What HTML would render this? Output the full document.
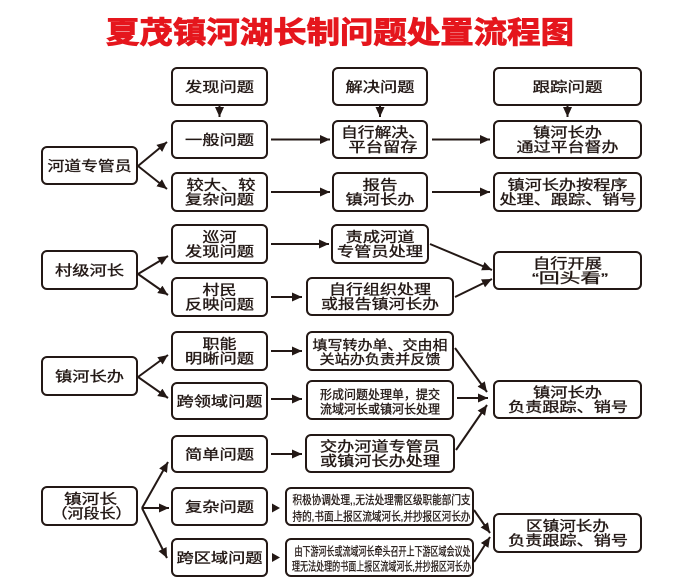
<!DOCTYPE html>
<html>
<head>
<meta charset="utf-8">
<style>
html,body{margin:0;padding:0;background:#fff;}
svg{display:block;}
.t{font-family:"Liberation Sans","Noto Sans CJK SC",sans-serif;fill:#231815;font-size:14px;stroke:#231815;stroke-width:0.35px;}
.s{stroke-width:0.3px;}
.ttl{font-family:"Liberation Sans","Noto Sans CJK SC",sans-serif;fill:#e5161d;font-size:30px;font-weight:bold;stroke:#e5161d;stroke-width:0.9px;}
rect{fill:#fff;stroke:#231815;stroke-width:2;}
line{stroke:#231815;stroke-width:2;}
</style>
</head>
<body>
<svg width="684" height="587" viewBox="0 0 684 587" xmlns="http://www.w3.org/2000/svg">
<defs>
<marker id="a" markerUnits="userSpaceOnUse" markerWidth="12" markerHeight="10" refX="10" refY="5" orient="auto">
<path d="M0,0.5 L10,5 L0,9.5 z" fill="#231815"/>
</marker>
</defs>

<!-- title -->
<text class="ttl" x="340" y="43" text-anchor="middle" textLength="468" lengthAdjust="spacingAndGlyphs">夏茂镇河湖长制问题处置流程图</text>

<!-- boxes -->
<rect x="172" y="68" width="95" height="37" rx="5"/>
<rect x="333" y="68" width="94" height="37" rx="5"/>
<rect x="494" y="68" width="147" height="37" rx="5"/>
<rect x="172" y="121" width="95" height="37" rx="5"/>
<rect x="333" y="121" width="94" height="37" rx="5"/>
<rect x="494" y="121" width="147" height="37" rx="5"/>
<rect x="172" y="173" width="95" height="38" rx="5"/>
<rect x="333" y="173" width="94" height="38" rx="5"/>
<rect x="494" y="173" width="147" height="38" rx="5"/>
<rect x="42" y="147" width="95" height="37" rx="5"/>

<rect x="42" y="251" width="95" height="38" rx="5"/>
<rect x="172" y="225" width="95" height="38" rx="5"/>
<rect x="172" y="278" width="95" height="38" rx="5"/>
<rect x="332" y="225" width="96" height="38" rx="5"/>
<rect x="307" y="278" width="146" height="37" rx="5"/>
<rect x="494" y="252" width="147" height="37" rx="5"/>

<rect x="42" y="357" width="95" height="38" rx="5"/>
<rect x="172" y="332" width="95" height="38" rx="5"/>
<rect x="172" y="383" width="95" height="36" rx="5"/>
<rect x="307" y="332" width="146" height="38" rx="5"/>
<rect x="307" y="381" width="146" height="38" rx="5"/>
<rect x="494" y="381" width="147" height="37" rx="5"/>

<rect x="42" y="487" width="95" height="38" rx="5"/>
<rect x="172" y="436" width="95" height="36" rx="5"/>
<rect x="172" y="488" width="95" height="37" rx="5"/>
<rect x="172" y="539" width="95" height="37" rx="5"/>
<rect x="306" y="435" width="148" height="37" rx="5"/>
<rect x="286" y="488" width="187" height="37" rx="5"/>
<rect x="286" y="539" width="187" height="37" rx="5"/>
<rect x="494" y="514" width="147" height="38" rx="5"/>

<!-- arrows -->
<g marker-end="url(#a)">
<line x1="219.5" y1="105" x2="219.5" y2="117"/>
<line x1="380" y1="105" x2="380" y2="117"/>
<line x1="567.5" y1="105" x2="567.5" y2="117"/>

<line x1="138" y1="166" x2="167" y2="142"/>
<line x1="138" y1="166" x2="167" y2="189"/>
<line x1="271" y1="139.5" x2="330" y2="139.5"/>
<line x1="432" y1="139.5" x2="490" y2="139.5"/>
<line x1="271" y1="192" x2="330" y2="192"/>
<line x1="432" y1="192" x2="490" y2="192"/>

<line x1="138" y1="274" x2="168" y2="256"/>
<line x1="138" y1="274" x2="168" y2="295"/>
<line x1="271" y1="244" x2="329" y2="244"/>
<line x1="271" y1="297" x2="302" y2="297"/>
<line x1="430" y1="244" x2="492" y2="270"/>
<line x1="455" y1="297" x2="492" y2="279"/>

<line x1="138" y1="377" x2="168" y2="355"/>
<line x1="138" y1="377" x2="168" y2="398"/>
<line x1="271" y1="351" x2="302" y2="351"/>
<line x1="271" y1="399" x2="302" y2="399"/>
<line x1="455" y1="348" x2="487" y2="392"/>
<line x1="457" y1="398" x2="488" y2="398"/>
<line x1="456" y1="450" x2="487" y2="405"/>

<line x1="142" y1="508" x2="168" y2="462"/>
<line x1="142" y1="508" x2="169" y2="508"/>
<line x1="142" y1="508" x2="167" y2="558"/>
<line x1="271" y1="454" x2="302" y2="454"/>
<line x1="474" y1="510" x2="490" y2="533"/>
<line x1="474" y1="562" x2="490" y2="537"/>
</g>
<polygon points="272,503.5 280,508 272,512.5" fill="#231815"/>
<polygon points="272,553 280,557.5 272,562" fill="#231815"/>

<!-- texts -->
<text class="t" x="219.5" y="91.8" text-anchor="middle" textLength="69" lengthAdjust="spacingAndGlyphs">发现问题</text>
<text class="t" x="380" y="91.8" text-anchor="middle" textLength="69" lengthAdjust="spacingAndGlyphs">解决问题</text>
<text class="t" x="567.5" y="91.8" text-anchor="middle" textLength="70" lengthAdjust="spacingAndGlyphs">跟踪问题</text>

<text class="t" x="219.5" y="144.8" text-anchor="middle" textLength="69" lengthAdjust="spacingAndGlyphs">一般问题</text>
<text class="t" x="383" y="137.3" text-anchor="middle" textLength="84" lengthAdjust="spacingAndGlyphs">自行解决、</text>
<text class="t" x="383" y="151.8" text-anchor="middle" textLength="69" lengthAdjust="spacingAndGlyphs">平台留存</text>
<text class="t" x="567.5" y="137.3" text-anchor="middle" textLength="69" lengthAdjust="spacingAndGlyphs">镇河长办</text>
<text class="t" x="567.5" y="151.8" text-anchor="middle" textLength="102" lengthAdjust="spacingAndGlyphs">通过平台督办</text>

<text class="t" x="221" y="189.8" text-anchor="middle" textLength="69" lengthAdjust="spacingAndGlyphs">较大、较</text>
<text class="t" x="219.5" y="204.3" text-anchor="middle" textLength="69" lengthAdjust="spacingAndGlyphs">复杂问题</text>
<text class="t" x="380" y="189.8" text-anchor="middle" textLength="35" lengthAdjust="spacingAndGlyphs">报告</text>
<text class="t" x="380" y="204.3" text-anchor="middle" textLength="69" lengthAdjust="spacingAndGlyphs">镇河长办</text>
<text class="t" x="567.5" y="189.8" text-anchor="middle" textLength="120" lengthAdjust="spacingAndGlyphs">镇河长办按程序</text>
<text class="t" x="568" y="204.3" text-anchor="middle" textLength="137" lengthAdjust="spacingAndGlyphs">处理、跟踪、销号</text>

<text class="t" x="89.5" y="170.8" text-anchor="middle" textLength="84" lengthAdjust="spacingAndGlyphs">河道专管员</text>

<text class="t" x="89.5" y="275.3" text-anchor="middle" textLength="69" lengthAdjust="spacingAndGlyphs">村级河长</text>
<text class="t" x="219.5" y="241.8" text-anchor="middle" textLength="34" lengthAdjust="spacingAndGlyphs">巡河</text>
<text class="t" x="219.5" y="256.3" text-anchor="middle" textLength="69" lengthAdjust="spacingAndGlyphs">发现问题</text>
<text class="t" x="219.5" y="294.8" text-anchor="middle" textLength="34" lengthAdjust="spacingAndGlyphs">村民</text>
<text class="t" x="219.5" y="309.3" text-anchor="middle" textLength="69" lengthAdjust="spacingAndGlyphs">反映问题</text>
<text class="t" x="380" y="241.8" text-anchor="middle" textLength="69" lengthAdjust="spacingAndGlyphs">责成河道</text>
<text class="t" x="380" y="256.3" text-anchor="middle" textLength="86" lengthAdjust="spacingAndGlyphs">专管员处理</text>
<text class="t" x="380" y="294.3" text-anchor="middle" textLength="102" lengthAdjust="spacingAndGlyphs">自行组织处理</text>
<text class="t" x="380" y="308.8" text-anchor="middle" textLength="118" lengthAdjust="spacingAndGlyphs">或报告镇河长办</text>
<text class="t" x="567.5" y="268.3" text-anchor="middle" textLength="69" lengthAdjust="spacingAndGlyphs">自行开展</text>
<text class="t" x="570" y="282.8" text-anchor="middle" textLength="76" lengthAdjust="spacingAndGlyphs">“回头看”</text>

<text class="t" x="89.5" y="381.3" text-anchor="middle" textLength="69" lengthAdjust="spacingAndGlyphs">镇河长办</text>
<text class="t" x="219.5" y="348.8" text-anchor="middle" textLength="34" lengthAdjust="spacingAndGlyphs">职能</text>
<text class="t" x="219.5" y="363.3" text-anchor="middle" textLength="69" lengthAdjust="spacingAndGlyphs">明晰问题</text>
<text class="t" x="219.5" y="406.3" text-anchor="middle" textLength="86" lengthAdjust="spacingAndGlyphs">跨领域问题</text>
<text class="t" x="380" y="350.1" text-anchor="middle" style="font-size:13.5px" textLength="135" lengthAdjust="spacingAndGlyphs">填写转办单、交由相</text>
<text class="t" x="380" y="364.1" text-anchor="middle" style="font-size:13.5px" textLength="121" lengthAdjust="spacingAndGlyphs">关站办负责并反馈</text>
<text class="t" x="380" y="398.8" text-anchor="middle" style="font-size:12.5px" textLength="120" lengthAdjust="spacingAndGlyphs">形成问题处理单，提交</text>
<text class="t" x="380" y="413.3" text-anchor="middle" style="font-size:12.5px" textLength="120" lengthAdjust="spacingAndGlyphs">流域河长或镇河长处理</text>
<text class="t" x="567.5" y="397.3" text-anchor="middle" textLength="69" lengthAdjust="spacingAndGlyphs">镇河长办</text>
<text class="t" x="568" y="411.8" text-anchor="middle" textLength="120" lengthAdjust="spacingAndGlyphs">负责跟踪、销号</text>

<text class="t" x="90.5" y="503.8" text-anchor="middle" textLength="53" lengthAdjust="spacingAndGlyphs">镇河长</text>
<text class="t" x="91.5" y="518.3" text-anchor="middle" textLength="80" lengthAdjust="spacingAndGlyphs">（河段长）</text>
<text class="t" x="219.5" y="459.3" text-anchor="middle" textLength="69" lengthAdjust="spacingAndGlyphs">简单问题</text>
<text class="t" x="219.5" y="511.8" text-anchor="middle" textLength="69" lengthAdjust="spacingAndGlyphs">复杂问题</text>
<text class="t" x="219.5" y="562.8" text-anchor="middle" textLength="86" lengthAdjust="spacingAndGlyphs">跨区域问题</text>
<text class="t" x="380" y="451.3" text-anchor="middle" textLength="120" lengthAdjust="spacingAndGlyphs">交办河道专管员</text>
<text class="t" x="380" y="465.8" text-anchor="middle" textLength="120" lengthAdjust="spacingAndGlyphs">或镇河长办处理</text>
<text class="t s" x="381.5" y="504" text-anchor="middle" style="font-size:12px" textLength="178" lengthAdjust="spacingAndGlyphs">积极协调处理,,无法处理需区级职能部门支</text>
<text class="t s" x="381.5" y="520.3" text-anchor="middle" style="font-size:12px" textLength="178" lengthAdjust="spacingAndGlyphs">持的,书面上报区流域河长,并抄报区河长办</text>
<text class="t s" x="382.5" y="555.5" text-anchor="middle" style="font-size:12px" textLength="176" lengthAdjust="spacingAndGlyphs">由下游河长或流域河长牵头召开上下游区域会议处</text>
<text class="t s" x="381.5" y="570.5" text-anchor="middle" style="font-size:12px" textLength="179" lengthAdjust="spacingAndGlyphs">理无法处理的书面上报区流域河长,并抄报区河长办</text>
<text class="t" x="567.5" y="530.8" text-anchor="middle" textLength="83" lengthAdjust="spacingAndGlyphs">区镇河长办</text>
<text class="t" x="568" y="545.3" text-anchor="middle" textLength="120" lengthAdjust="spacingAndGlyphs">负责跟踪、销号</text>
</svg>
</body>
</html>
